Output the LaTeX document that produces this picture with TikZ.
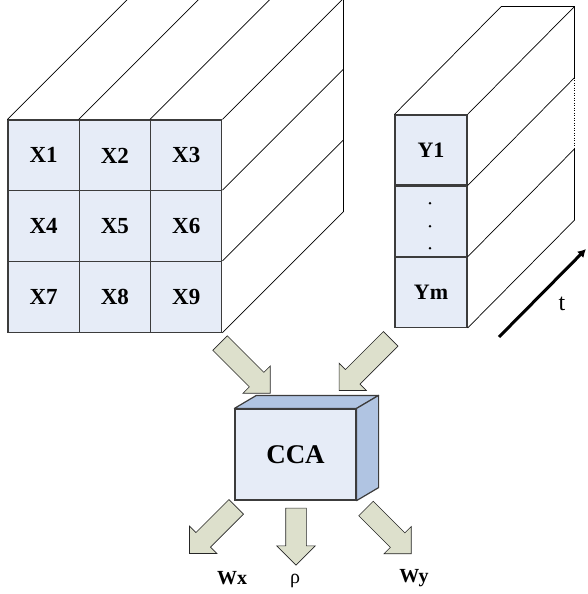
\documentclass[tikz,border=0pt]{standalone}
\usepackage{fontspec}
\setmainfont{Liberation Serif}
\usetikzlibrary{calc,shapes.arrows,arrows.meta,positioning}
\definecolor{cellblue}{RGB}{230,236,247}
\definecolor{ccaside}{RGB}{176,196,226}
\definecolor{arrowfill}{RGB}{221,224,204}
\definecolor{edgegray}{RGB}{60,60,60}
\tikzset{
	cell/.style={
		draw=edgegray, line width=1.2pt, fill=cellblue, rectangle,
		minimum width=71.3pt, minimum height=70.7pt, inner sep=0pt,
		font=\fontsize{23}{27}\selectfont\bfseries
	},
	ycell/.style={cell, minimum width=72pt, minimum height=70pt,
		font=\fontsize{22}{26}\selectfont\bfseries},
	depth/.style={black, line width=0.7pt},
	ccabox/.style={
		draw=edgegray, line width=1.2pt, fill=cellblue,
		minimum width=121pt, minimum height=91pt, inner sep=0pt,
		font=\fontsize{27}{32}\selectfont\bfseries
	},
	ccaface/.style={draw=edgegray, line width=1.2pt, fill=ccaside, line join=round},
	blockarrow/.style={
		single arrow, draw=black!85, fill=arrowfill, line width=0.6pt,
		inner xsep=0pt, inner ysep=10pt,
		single arrow head extend=9pt, single arrow tip angle=90
	},
	lbl/.style={inner sep=1pt, font=\fontsize{20}{24}\selectfont},
	wlbl/.style={inner sep=1pt, font=\fontsize{20}{24}\selectfont\bfseries}
}
\begin{document}
\begin{tikzpicture}[x=1pt,y=-1pt]
\useasboundingbox (0,0) rectangle (588,594);
% X grid
\foreach \r in {0,1,2}{
	\foreach \c in {0,1,2}{
		\pgfmathtruncatemacro{\n}{3*\r+\c+1}
		\node[cell] (X\n) at (43.6+71.3*\c, 155.4+70.7*\r) {X\n};
	}
}
\foreach \n in {1,2,3}
	\draw[depth] (X\n.north west) -- ++(121,-121);
\foreach \n in {3,6,9}
	\draw[depth] (X\n.north east) -- ++(121,-121);
\draw[depth] (X9.south east) -- ++(121,-121) coordinate (xb);
\draw[depth] ($(X1.north west)+(121,-121)$) -- ($(X3.north east)+(121,-121)$) -- (xb);

% Y column
\node[ycell] (Y1) at (431,150) {Y1};
\node[ycell, below=0pt of Y1] (Yd) {};
\node[ycell, below=0pt of Yd] (Ym) {Ym};
\foreach \d in {-18,5,27}
	\fill ($(Yd.center)+(-1,\d)$) circle (1.4pt);
\draw[depth] (Y1.north west) -- ++(107,-108) coordinate (yt);
\draw[depth] (Y1.north east) -- ++(107,-108) coordinate (yb0);
\draw[depth] (Y1.south east) -- ++(107,-108) coordinate (yb1);
\draw[depth] (Ym.north east) -- ++(107,-108) coordinate (yb2);
\draw[depth] (Ym.south east) -- ++(107,-108) coordinate (yb3);
\draw[depth] (yt) -- (yb0) -- (yb1);
\draw[black, line width=0.5pt, dotted] (yb1) -- (yb2);
\draw[depth] (yb2) -- (yb3);

% time axis
\coordinate (t0) at (499,337);
\coordinate (t1) at (586,249);
\draw[line width=3pt, -{Latex[length=8pt,width=9pt]}] (t0) -- (t1);
\node[lbl, font=\fontsize{24}{28}\selectfont] (t) at (562,304) {t};

% CCA block
\node[ccabox] (CCA) at (295.5,454.5) {CCA};
\draw[ccaface] (CCA.north west) -- ($(CCA.north west)+(22,-13)$)
	-- ($(CCA.north east)+(22,-13)$) -- (CCA.north east) -- cycle;
\draw[ccaface] (CCA.north east) -- ($(CCA.north east)+(22,-13)$)
	-- ($(CCA.south east)+(22,-13)$) -- (CCA.south east) -- cycle;

% block arrows
\node[blockarrow, minimum height=71pt, rotate=-45]  (inx) at (241.5,364.5) {};
\node[blockarrow, minimum height=73pt, rotate=-135] (iny) at (368.5,361) {};
\node[blockarrow, minimum height=66pt, rotate=-135] (outwx) at (216.5,526.5) {};
\node[blockarrow, minimum height=57pt, rotate=-90]  (outrho) at (296,531.5) {};
\node[blockarrow, minimum height=64pt, rotate=-45]  (outwy) at (385,527.5) {};

% outputs
\node[wlbl] (Wx) at (232,578) {Wx};
\node[lbl] (rho) at (295,581) {ρ};
\node[wlbl] (Wy) at (414,578) {Wy};
\end{tikzpicture}
\end{document}
